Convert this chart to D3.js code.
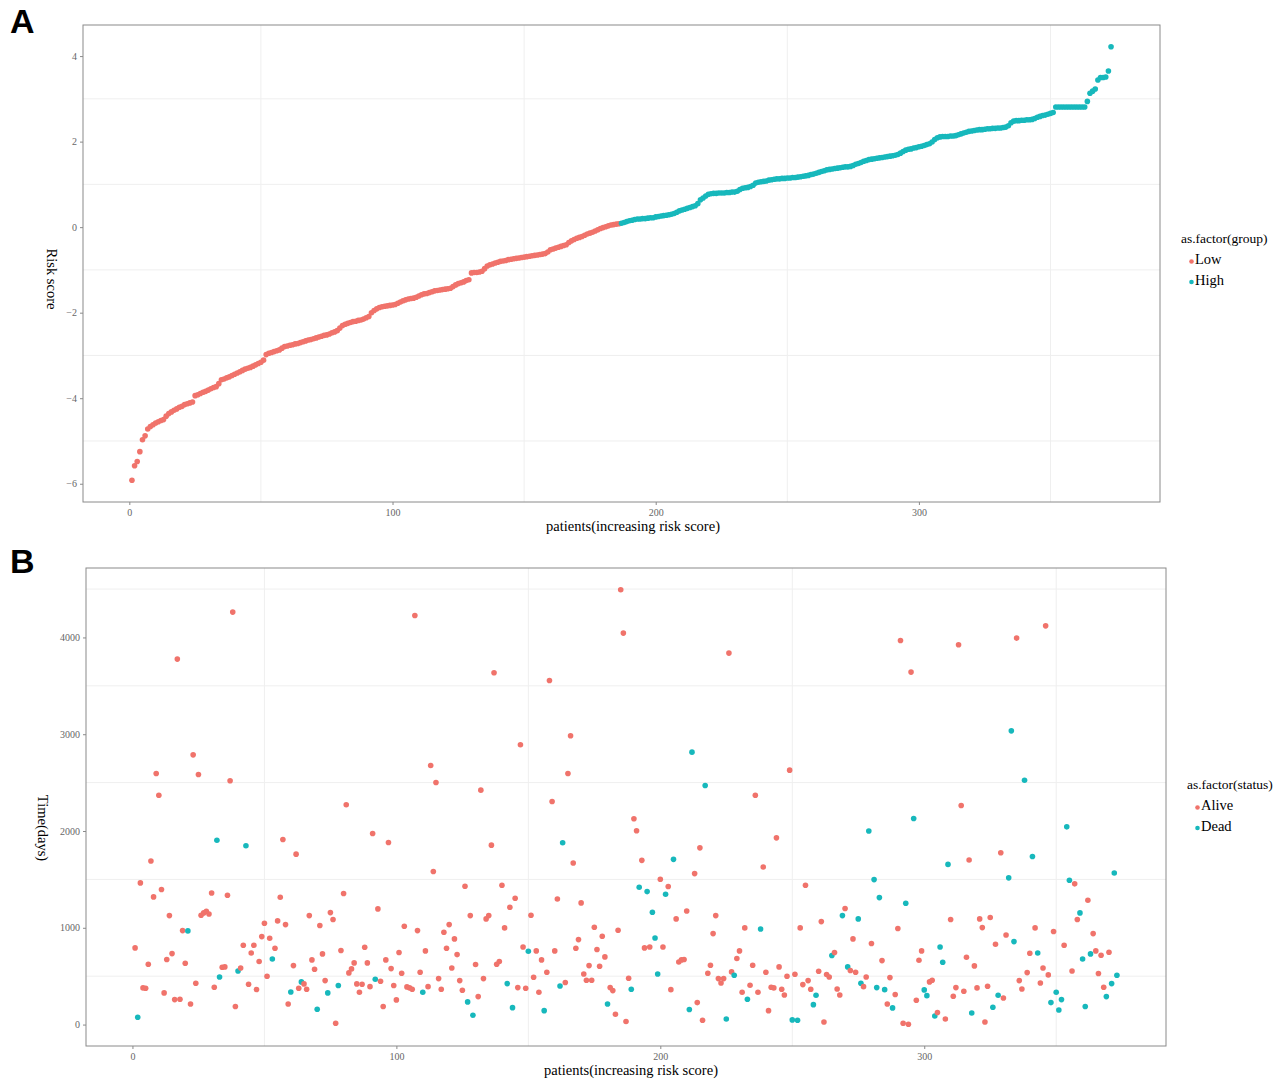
<!DOCTYPE html>
<html>
<head>
<meta charset="utf-8">
<script src="https://cdn.jsdelivr.net/npm/d3@7"></script>
<style>
  body { margin: 0; background: #fff; }
  text { font-family: "Liberation Serif", "Times New Roman", serif; }
</style>
</head>
<body>
<script>
// risk score of each patient, sorted (panel A)
let riskScore = [
  -5.92,-5.58,-5.48,-5.25,-4.97,-4.88,-4.72,-4.66,-4.62,-4.58,
  -4.55,-4.52,-4.50,-4.42,-4.36,-4.32,-4.28,-4.25,-4.21,-4.19,
  -4.15,-4.13,-4.11,-4.09,-3.94,-3.92,-3.89,-3.86,-3.84,-3.81,
  -3.78,-3.75,-3.73,-3.66,-3.57,-3.55,-3.52,-3.50,-3.47,-3.44,
  -3.41,-3.38,-3.35,-3.32,-3.30,-3.28,-3.25,-3.22,-3.19,-3.16,
  -3.11,-2.98,-2.95,-2.93,-2.91,-2.89,-2.87,-2.83,-2.79,-2.78,
  -2.76,-2.75,-2.73,-2.72,-2.70,-2.68,-2.66,-2.64,-2.63,-2.61,
  -2.59,-2.57,-2.55,-2.53,-2.52,-2.50,-2.47,-2.45,-2.42,-2.36,
  -2.30,-2.27,-2.25,-2.23,-2.21,-2.20,-2.18,-2.17,-2.15,-2.12,
  -2.09,-2.00,-1.95,-1.91,-1.88,-1.86,-1.85,-1.84,-1.83,-1.82,
  -1.81,-1.78,-1.75,-1.72,-1.70,-1.68,-1.67,-1.66,-1.64,-1.61,
  -1.58,-1.56,-1.55,-1.53,-1.51,-1.49,-1.48,-1.47,-1.46,-1.45,
  -1.44,-1.43,-1.39,-1.35,-1.32,-1.30,-1.28,-1.25,-1.23,-1.07,
  -1.06,-1.06,-1.05,-1.03,-0.97,-0.91,-0.88,-0.86,-0.84,-0.82,
  -0.80,-0.79,-0.78,-0.76,-0.75,-0.74,-0.73,-0.72,-0.71,-0.70,
  -0.69,-0.68,-0.67,-0.66,-0.65,-0.64,-0.63,-0.62,-0.58,-0.53,
  -0.51,-0.49,-0.47,-0.45,-0.43,-0.41,-0.36,-0.32,-0.29,-0.26,
  -0.24,-0.22,-0.19,-0.16,-0.14,-0.12,-0.09,-0.06,-0.03,-0.01,
  0.01,0.03,0.05,0.06,0.07,0.08,0.09,0.11,0.13,0.15,
  0.16,0.18,0.19,0.19,0.20,0.20,0.21,0.22,0.22,0.24,
  0.25,0.26,0.27,0.28,0.29,0.30,0.32,0.35,0.38,0.40,
  0.42,0.44,0.46,0.48,0.50,0.55,0.64,0.68,0.73,0.77,
  0.78,0.79,0.79,0.80,0.80,0.80,0.81,0.81,0.82,0.82,
  0.84,0.88,0.91,0.92,0.93,0.95,0.98,1.03,1.05,1.06,
  1.07,1.08,1.10,1.11,1.12,1.13,1.13,1.14,1.14,1.15,
  1.15,1.16,1.16,1.17,1.18,1.19,1.20,1.21,1.23,1.24,
  1.26,1.28,1.30,1.32,1.34,1.35,1.36,1.37,1.38,1.39,
  1.40,1.41,1.41,1.42,1.44,1.47,1.49,1.51,1.54,1.56,
  1.58,1.59,1.60,1.61,1.62,1.63,1.64,1.65,1.66,1.67,
  1.68,1.70,1.73,1.77,1.80,1.82,1.83,1.85,1.86,1.88,
  1.89,1.91,1.93,1.95,1.99,2.05,2.09,2.11,2.12,2.12,
  2.12,2.13,2.13,2.14,2.16,2.18,2.20,2.22,2.24,2.25,
  2.26,2.27,2.28,2.28,2.29,2.30,2.30,2.31,2.31,2.32,
  2.32,2.33,2.34,2.37,2.44,2.48,2.49,2.49,2.50,2.50,
  2.51,2.51,2.52,2.54,2.57,2.59,2.61,2.62,2.64,2.66,
  2.68,2.81,2.81,2.81,2.81,2.81,2.81,2.81,2.81,2.81,
  2.81,2.81,2.81,2.94,3.13,3.18,3.23,3.44,3.50,3.50,
  3.51,3.65,4.22
];

// survival time in days, same patient order (panel B)
let survTime = [
  792,75,1464,379,375,623,1690,1319,2594,2370,
  1395,327,672,1126,733,258,3776,262,971,634,
  968,213,2787,427,2584,1130,1154,1171,1143,1360,
  386,1905,492,592,596,1336,2519,4262,186,554,
  585,820,1847,417,740,820,362,651,909,1047,
  499,892,678,789,1071,1316,1912,1033,213,337,
  609,1761,375,441,420,365,1126,668,572,158,
  1023,730,454,327,1157,1085,14,403,765,1354,
  2271,534,575,637,420,334,417,799,637,392,
  1974,468,1195,448,186,668,1881,578,403,255,
  744,530,1016,389,379,365,4227,971,541,334,
  761,392,2677,1581,2501,475,365,954,789,1033,
  585,885,723,454,355,1429,234,1126,96,620,
  289,2422,475,1092,1126,1854,3635,623,651,1440,
  999,423,1212,175,1305,382,2891,802,375,758,
  1130,489,761,334,668,144,541,3555,2305,761,
  1298,399,1878,434,2594,2984,1670,789,878,1257,
  523,458,609,458,1006,775,603,913,699,213,
  382,351,107,975,4493,4045,31,479,365,2126,
  2002,1419,1697,792,1374,802,1161,895,523,1502,
  802,1347,1426,361,1707,1092,647,668,672,1174,
  155,2815,1560,227,1826,45,2470,530,613,940,
  1126,475,430,475,58,3838,544,510,682,761,
  334,999,262,406,613,2370,334,988,1628,541,
  144,386,379,1929,596,365,306,499,2629,48,
  520,45,999,413,1440,454,365,206,303,551,
  1064,27,517,492,713,744,368,306,1126,1199,
  596,558,885,541,1092,427,392,492,2000,837,
  1498,382,1312,661,361,213,485,172,310,992,
  3969,14,1254,3,3642,2129,251,665,761,358,
  299,441,458,89,124,802,644,58,1655,1085,
  293,382,3924,2264,344,696,1700,120,606,379,
  1092,1002,27,396,1106,179,830,303,1775,275,
  926,1516,3035,857,3993,454,368,2525,537,737,
  1737,999,740,430,585,4120,513,227,961,334,
  151,258,820,2043,1491,554,1454,1085,1154,678,
  186,1285,730,940,761,527,716,386,289,747,
  423,1566,510
];

// vital status, 1 = dead, 0 = alive
let survStatus = [
  0,1,0,0,0,0,0,0,0,0, 0,0,0,0,0,0,0,0,0,0,
  1,0,0,0,0,0,0,0,0,0, 0,1,1,0,0,0,0,0,0,1,
  0,0,1,0,0,0,0,0,0,0, 0,0,1,0,0,0,0,0,0,1,
  0,0,0,1,0,0,0,0,0,1, 0,0,0,1,0,0,0,1,0,0,
  0,0,0,0,0,0,0,0,0,0, 0,1,0,0,0,0,0,0,0,0,
  0,0,0,0,0,0,0,0,0,1, 0,0,0,0,0,0,0,0,0,0,
  0,0,0,0,0,0,1,0,1,0, 0,0,0,0,0,0,0,0,0,0,
  0,1,0,1,0,0,0,0,0,1, 0,0,0,0,0,1,0,0,0,0,
  0,1,1,0,0,0,0,0,0,0, 0,0,0,0,0,0,0,0,0,1,
  0,0,0,0,0,0,0,0,1,0, 0,1,0,0,1,0,1,1,1,0,
  0,1,0,0,1,0,0,0,0,0, 1,1,0,0,0,0,1,0,0,0,
  0,0,0,0,1,0,0,1,0,0, 0,0,1,0,0,0,0,1,0,0,
  0,0,0,0,0,0,0,0,0,1, 0,1,0,0,0,0,0,1,1,0,
  0,0,0,0,1,0,0,0,1,0, 1,0,0,0,1,1,0,0,1,0,
  1,1,1,0,1,0,0,1,0,0, 0,0,1,0,0,1,0,0,0,1,
  1,0,0,1,0,1,1,0,1,0, 0,0,0,0,0,0,0,1,0,0,
  0,0,0,0,0,1,0,1,0,0, 0,1,1,1,0,0,0,1,0,0,
  1,0,1,0,0,0,0,1,0,1, 1,1,0,1,1,0,0,0,1,1,
  1,0,1,0,0,0,0,0,1,0, 1,1,1
];

let groupLabels = ['Low', 'High'];
let statusLabels = ['Alive', 'Dead'];
let riskTicks = [-6, -4, -2, 0, 2, 4];
let timeTicks = [0, 1000, 2000, 3000, 4000];
let patientTicks = [0, 100, 200, 300];

let red = '#F0736B', teal = '#17B8BC';

let cutoff = d3.median(riskScore);
let riskPoints = riskScore.map((v, i) => ({x: i + 1, y: v, key: v < cutoff ? 'Low' : 'High'}));
let timePoints = survTime.map((v, i) => ({x: i + 1, y: v, key: statusLabels[survStatus[i]]}));

var svg = d3.select('body').append('svg')
  .attr('width', 1285)
  .attr('height', 1082);

// ggplot style 5% padding around the data
function padded(ext) {
  let d = (ext[1] - ext[0]) * 0.05;
  return [ext[0] - d, ext[1] + d];
}

function drawPanel(opt) {
  let color = d3.scaleOrdinal().domain(opt.keys).range([red, teal]);
  let x = d3.scaleLinear()
    .domain(padded(d3.extent(opt.points, d => d.x)))
    .range([opt.left, opt.right]);
  let y = d3.scaleLinear()
    .domain(padded(d3.extent(opt.points, d => d.y)))
    .range([opt.bottom, opt.top]);

  // only the minor grid is visible in the original
  let g = svg.append('g');
  g.selectAll('.vgrid')
    .data(opt.xGrid)
    .enter().append('line')
      .attr('x1', d => x(d)).attr('x2', d => x(d))
      .attr('y1', opt.top).attr('y2', opt.bottom)
      .attr('stroke', '#efefef').attr('stroke-width', 1);
  g.selectAll('.hgrid')
    .data(opt.yGrid)
    .enter().append('line')
      .attr('y1', d => y(d)).attr('y2', d => y(d))
      .attr('x1', opt.left).attr('x2', opt.right)
      .attr('stroke', '#efefef').attr('stroke-width', 1);

  g.selectAll('circle')
    .data(opt.points)
    .enter().append('circle')
      .attr('cx', d => x(d.x))
      .attr('cy', d => y(d.y))
      .attr('r', 2.8)
      .attr('fill', d => color(d.key));

  g.append('rect')
    .attr('x', opt.left).attr('y', opt.top)
    .attr('width', opt.right - opt.left).attr('height', opt.bottom - opt.top)
    .attr('fill', 'none').attr('stroke', '#8a8a8a').attr('stroke-width', 1);

  let ax = g.append('g')
    .attr('transform', 'translate(0,' + opt.bottom + ')')
    .call(d3.axisBottom(x).tickValues(opt.xTicks).tickSize(3).tickPadding(4));
  let ay = g.append('g')
    .attr('transform', 'translate(' + opt.left + ',0)')
    .call(d3.axisLeft(y).tickValues(opt.yTicks).tickSize(3).tickPadding(3).tickFormat(d => d < 0 ? '\u2212' + (-d) : d));
  [ax, ay].forEach(a => {
    a.select('.domain').remove();
    a.selectAll('line').attr('stroke', '#8a8a8a');
    a.selectAll('text')
      .attr('fill', '#666')
      .style('font-family', '"Liberation Serif", serif')
      .style('font-size', '10px');
  });

  // axis titles
  g.append('text')
    .attr('x', opt.xTitlePos[0]).attr('y', opt.xTitlePos[1])
    .attr('text-anchor', 'middle')
    .style('font-size', '14.5px')
    .text(opt.xTitle);
  g.append('text')
    .attr('transform', 'translate(' + opt.yTitlePos[0] + ',' + opt.yTitlePos[1] + ')rotate(90)')
    .attr('text-anchor', 'middle')
    .style('font-size', '14.5px')
    .text(opt.yTitle);

  // legend
  let lg = g.append('g').attr('transform', 'translate(' + opt.legend[0] + ',' + opt.legend[1] + ')');
  lg.append('text').attr('x', 0).attr('y', 0)
    .style('font-size', '13.5px').text(opt.legendTitle);
  let items = lg.selectAll('.item')
    .data(opt.keys)
    .enter().append('g')
      .attr('transform', (d, i) => 'translate(0,' + (21 + i * 20.5) + ')');
  items.append('circle')
    .attr('cx', 10.5).attr('cy', -2.5).attr('r', 2.3)
    .attr('fill', d => color(d));
  items.append('text')
    .attr('x', 14).attr('y', 0)
    .style('font-size', '14.5px')
    .text(d => d);

  // panel letter
  svg.append('text')
    .attr('x', 10).attr('y', opt.letterY)
    .style('font-family', '"Liberation Sans", Arial, sans-serif')
    .style('font-weight', 'bold')
    .style('font-size', '34px')
    .text(opt.letter);
}

drawPanel({
  points: riskPoints, keys: groupLabels,
  left: 83, right: 1160, top: 25, bottom: 502,
  xTicks: patientTicks, yTicks: riskTicks,
  xGrid: [50, 150, 250, 350], yGrid: [-5, -3, -1, 1, 3],
  xTitle: 'patients(increasing risk score)', xTitlePos: [633, 531],
  yTitle: 'Risk score', yTitlePos: [47, 279],
  legendTitle: 'as.factor(group)', legend: [1181, 243],
  letter: 'A', letterY: 33
});

drawPanel({
  points: timePoints, keys: statusLabels,
  left: 86, right: 1166, top: 568, bottom: 1046,
  xTicks: patientTicks, yTicks: timeTicks,
  xGrid: [50, 150, 250, 350], yGrid: [500, 1500, 2500, 3500, 4500],
  xTitle: 'patients(increasing risk score)', xTitlePos: [631, 1075],
  yTitle: 'Time(days)', yTitlePos: [38, 828],
  legendTitle: 'as.factor(status)', legend: [1187, 789],
  letter: 'B', letterY: 573
});
</script>
</body>
</html>
